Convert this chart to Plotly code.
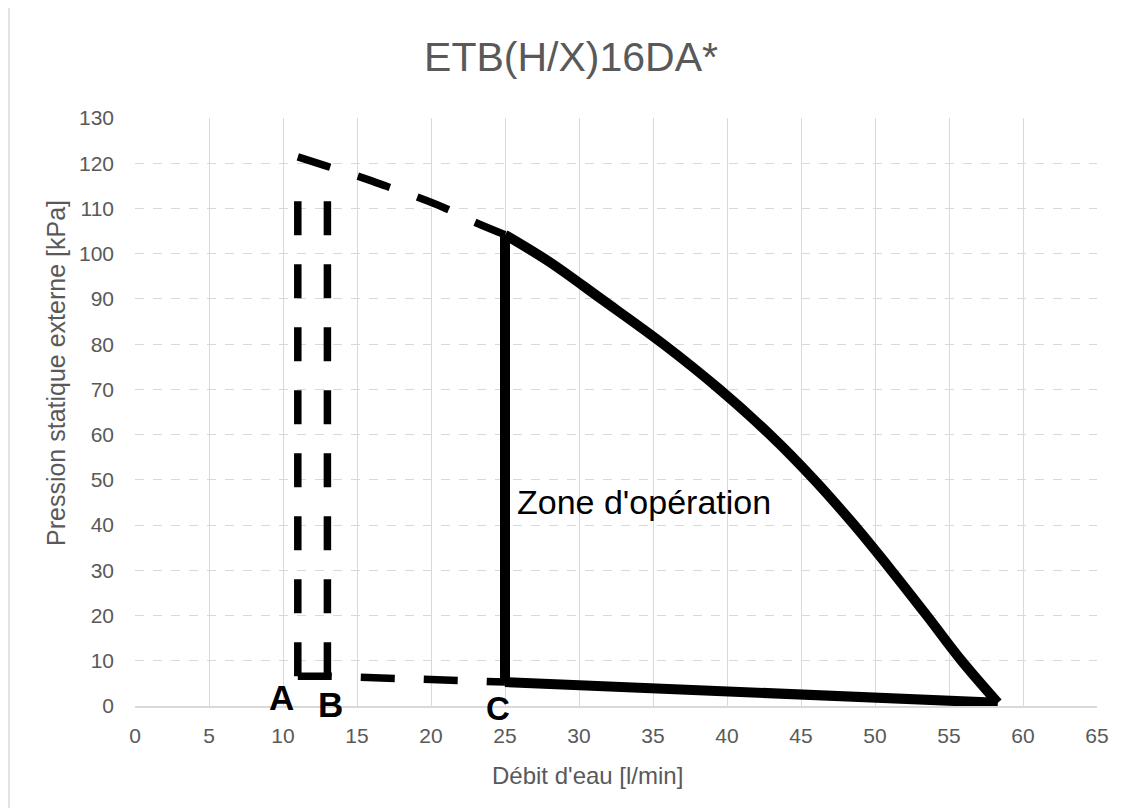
import plotly.graph_objects as go

# ---- data ----
title_text = "ETB(H/X)16DA*"
x_title = "Débit d'eau [l/min]"
y_title = "Pression statique externe [kPa]"

x_ticks = [0, 5, 10, 15, 20, 25, 30, 35, 40, 45, 50, 55, 60, 65]
y_ticks = [0, 10, 20, 30, 40, 50, 60, 70, 80, 90, 100, 110, 120, 130]

# dashed upper curve (below the min operating flow)
top_dash_x = [11, 13, 15, 17, 19, 21, 23, 25]
top_dash_y = [121.4, 119.3, 117.2, 114.9, 112.6, 110.0, 106.9, 104.2]

# dashed lower line
bottom_dash_x = [11, 13, 25]
bottom_dash_y = [6.6, 6.6, 5.3]

# dashed vertical limits A and B
a_x = [11, 11]
a_y = [6.6, 117.0]
b_x = [13, 13]
b_y = [6.6, 117.0]

# solid operating zone: upper curve (read where it crosses the grid lines)
curve_x = [25, 28.0, 31.5, 35.7, 39.5, 42.9, 45.9, 48.6, 51.1, 53.5, 55.85, 58.3]
curve_y = [104.2, 98.2, 90, 80, 70, 60, 50, 40, 30, 20, 10, 0.7]

# solid vertical at C and solid bottom line
c_x = [25, 25]
c_y = [5.3, 104.2]
base_x = [25, 58.3]
base_y = [5.3, 0.7]

labels = ["A", "B", "C"]
label_x = [9.9, 13.2, 24.5]
label_y = [1.8, 0.4, -0.6]
label_size = [35, 35, 33]

zone_text = "Zone d'opération"
zone_x = 25.7
zone_y = 45

# ---- figure ----
FONT = "Liberation Sans, Arial, sans-serif"
GREY = "#595959"
GRID = "#d9d9d9"
PX_PER_Y = 588 / 130.0  # pixels per y unit inside plot area
PLOT_W, PLOT_H = 962.0, 588.0

fig = go.Figure()

dash_pat = "34px,29px"
dash_line = dict(color="black", width=7.5, dash=dash_pat)
solid_line = dict(color="black", width=10)

fig.add_trace(go.Scatter(x=top_dash_x, y=top_dash_y, mode="lines",
                         line=dict(dash_line, shape="spline")))
fig.add_trace(go.Scatter(x=bottom_dash_x, y=bottom_dash_y, mode="lines", line=dash_line))
fig.add_trace(go.Scatter(x=a_x, y=a_y, mode="lines", line=dash_line))
fig.add_trace(go.Scatter(x=b_x, y=b_y, mode="lines", line=dash_line))
fig.add_trace(go.Scatter(x=curve_x, y=curve_y, mode="lines",
                         line=dict(solid_line, shape="spline", smoothing=1.0, simplify=False)))
fig.add_trace(go.Scatter(x=c_x, y=c_y, mode="lines", line=solid_line))
fig.add_trace(go.Scatter(x=base_x, y=base_y, mode="lines", line=solid_line))

for t, lx, ly, ls in zip(labels, label_x, label_y, label_size):
    anchor_y = max(ly, 0)
    fig.add_annotation(x=lx, y=anchor_y, xref="x", yref="y", text=f"<b>{t}</b>",
                       yshift=(ly - anchor_y) * PX_PER_Y,
                       showarrow=False, xanchor="center", yanchor="middle",
                       font=dict(family=FONT, size=ls, color="black"))

fig.add_annotation(x=zone_x, y=zone_y, xref="x", yref="y", text=zone_text,
                   showarrow=False, xanchor="left", yanchor="middle",
                   font=dict(family=FONT, size=34, color="black"))

# axis titles (placed where they sit in the reference)
fig.add_annotation(x=(587 - 135) / PLOT_W, y=(706 - 775) / PLOT_H, xref="paper", yref="paper",
                   text=x_title, showarrow=False, xanchor="center", yanchor="middle",
                   font=dict(family=FONT, size=24, color=GREY))
fig.add_annotation(x=(56 - 135) / PLOT_W, y=(706 - 373) / PLOT_H, xref="paper", yref="paper",
                   text=y_title, textangle=-90, showarrow=False,
                   xanchor="center", yanchor="middle",
                   font=dict(family=FONT, size=25, color=GREY))

# chart-area border (left and top visible)
fig.add_shape(type="line", xref="paper", yref="paper",
              x0=-0.131, x1=-0.131, y0=-0.3, y1=1.189,
              line=dict(color=GRID, width=1.5), layer="below")
fig.add_shape(type="line", xref="paper", yref="paper",
              x0=-0.131, x1=1.2, y0=1.189, y1=1.189,
              line=dict(color=GRID, width=1.5), layer="below")

# page has an 8px body margin -> compensate so the plot area lands at the reference position
fig.update_layout(
    width=1116, height=800,
    margin=dict(l=127, r=27, t=110, b=102),
    paper_bgcolor="white", plot_bgcolor="white",
    showlegend=False,
    title=dict(text=title_text, xref="container", yref="container",
               x=563 / 1116, y=1 - 49 / 800, xanchor="center", yanchor="middle",
               font=dict(family=FONT, size=41, color=GREY)),
    font=dict(family=FONT, color=GREY),
)

fig.update_xaxes(
    range=[0, 65], tickvals=x_ticks, ticktext=[str(v) for v in x_ticks],
    showgrid=True, gridcolor=GRID, gridwidth=1.3,
    showline=True, linecolor=GRID, linewidth=2,
    zeroline=False, ticks="", ticklabelstandoff=10,
    tickfont=dict(family=FONT, size=21, color=GREY),
)
fig.update_yaxes(
    range=[0, 130], tickvals=y_ticks, ticktext=[str(v) for v in y_ticks],
    showgrid=True, gridcolor=GRID, gridwidth=1.3, griddash="dash",
    showline=False, zeroline=False, ticks="", ticklabelstandoff=20,
    tickfont=dict(family=FONT, size=21, color=GREY),
)

fig.write_html("out.html")
